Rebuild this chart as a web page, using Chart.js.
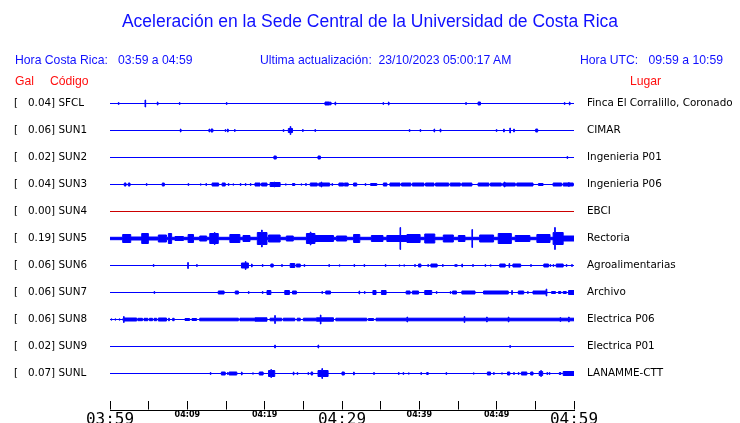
<!DOCTYPE html>
<html>
<head>
<meta charset="utf-8">
<script src="https://cdn.jsdelivr.net/npm/chart.js@4.4.0/dist/chart.umd.min.js"></script>
<style>
  body { margin: 0; background: #fff; }
  #wrap { position: relative; width: 740px; height: 423px; font-family: "Liberation Sans", Arial, sans-serif; }
  #wrap canvas { position: absolute; left: 0; top: 0; }
  .txt { position: absolute; white-space: pre; line-height: 1; }
  .blue { color: #1010ff; }
  .red { color: #ff1010; }
</style>
</head>
<body>
<div id="wrap">
  <canvas id="sismo" width="740" height="423"></canvas>
  <div class="txt blue" style="left:0;width:740px;text-align:center;top:13px;font-size:17.5px;">Aceleración en la Sede Central de la Universidad de Costa Rica</div>
  <div class="txt blue" style="left:15px;top:53.5px;font-size:12.2px;">Hora Costa Rica:   03:59 a 04:59</div>
  <div class="txt blue" style="left:260px;top:53.5px;font-size:12.2px;">Ultima actualización:  23/10/2023 05:00:17 AM</div>
  <div class="txt blue" style="left:580px;top:53.5px;font-size:12.2px;">Hora UTC:   09:59 a 10:59</div>
  <div class="txt red" style="left:15px;top:74.5px;font-size:12.2px;">Gal</div>
  <div class="txt red" style="left:50px;top:74.5px;font-size:12.2px;">Código</div>
  <div class="txt red" style="left:630px;top:74.5px;font-size:12.2px;">Lugar</div>
</div>
<script>
// Estaciones
const CODES = ["SFCL", "SUN1", "SUN2", "SUN3", "SUN4", "SUN5", "SUN6", "SUN7", "SUN8", "SUN9", "SUNL"];
const GAL = [0.04, 0.06, 0.02, 0.04, 0.00, 0.19, 0.06, 0.06, 0.06, 0.02, 0.07];
const PLACES = ["Finca El Corralillo, Coronado", "CIMAR", "Ingenieria P01", "Ingenieria P06", "EBCI",
  "Rectoria", "Agroalimentarias", "Archivo", "Electrica P06", "Electrica P01", "LANAMME-CTT"];
const TIME_LABELS = ["03:59", "04:09", "04:19", "04:29", "04:39", "04:49", "04:59"];

// Amplitud de fondo de cada traza (unidades de traza, 27 = separacion entre trazas)
const BASE = [0, 0, 0, 0, 0, 1.2, 0, 0, 0, 0, 0];

// Rafagas: [minuto inicio, minuto fin, amplitud] o [minuto, amplitud] para un pico
const SFCL = [[1.08, 1], [4.53, 3.5], [6.12, 1.5], [8.97, 1], [15.05, 1], [27.8, 28.4, 1.5], [28.5, 1.5],
  [29.1, 1.5], [35.3, 1], [36.0, 1.5], [46.0, 1], [47.6, 47.9, 1.5], [58.75, 1], [59.4, 1.5]];
const SUN1 = [[9.1, 1.5], [12.8, 1.5], [13.06, 13.3, 1.5], [14.9, 1], [15.2, 1.5], [16.1, 1], [22.4, 1],
  [23.06, 23.6, 2], [23.3, 4], [24.9, 1], [26.5, 1], [38.7, 1], [40.1, 1], [41.9, 1.5], [42.7, 1.5],
  [49.95, 1], [50.9, 1.5], [51.7, 2.5], [52.2, 1.5], [55.05, 55.3, 1.5]];
const SUN2 = [[21.2, 21.5, 1.5], [26.9, 27.2, 1.5], [59.1, 1]];
const SUN3 = [[1.85, 2.07, 1.5], [2.37, 2.59, 1.5], [4.7, 1], [6.76, 7.02, 1.5], [10.1, 1], [11.7, 0.7],
  [12.4, 1], [13.2, 14.05, 1.5], [14.5, 14.9, 1.5], [15.3, 1], [15.9, 0.7], [16.85, 1], [17.5, 1],
  [18.15, 1], [18.75, 19.4, 1.5], [19.6, 20.3, 1.5], [20.7, 22.0, 2], [21.2, 2.5], [22.7, 0.7],
  [23.6, 23.9, 1], [24.7, 0.7], [25.3, 1], [25.9, 26.8, 1.5], [27.0, 28.4, 1.5], [27.3, 2.5], [28.7, 1],
  [29.6, 30.2, 1.5], [30.3, 30.8, 1.5], [31.5, 31.9, 1.5], [33.0, 1], [33.7, 34.5, 1], [35.35, 35.8, 1.5],
  [36.2, 37.5, 1.5], [37.7, 38.9, 1.5], [39.1, 40.6, 1.5], [40.8, 41.9, 1.5], [42.1, 43.8, 1.5],
  [44.0, 45.3, 1.5], [45.5, 46.8, 1.5], [47.6, 49.0, 1.5], [49.2, 50.6, 1.5], [50.8, 52.4, 1.5],
  [51.0, 2.5], [52.6, 54.7, 1.5], [55.4, 56.0, 1], [57.3, 58.4, 1.5], [58.6, 59.9, 1.5], [59.3, 2]];
const SUN4 = [];
const SUN5 = [[1.64, 2.68, 4], [2.68, 4.1, 1.5], [4.1, 4.96, 5], [4.96, 6.2, 1.5], [6.25, 7.3, 3.5],
  [7.55, 7.97, 5], [8.4, 9.5, 2], [10.1, 10.8, 4], [11.6, 12.5, 2.5], [12.9, 14.0, 5], [13.5, 6],
  [15.5, 16.8, 4], [17.2, 18.1, 3], [19.05, 20.3, 6], [19.6, 8.5], [20.5, 22.0, 3.5], [22.8, 23.7, 2.5],
  [25.4, 26.5, 5], [25.9, 6.5], [26.5, 28.9, 3], [29.3, 30.6, 2.5], [31.5, 32.3, 4], [33.8, 35.3, 3],
  [35.8, 38.4, 3], [37.5, 11], [38.4, 40.1, 4], [40.7, 42.0, 4.5], [43.1, 44.4, 3.5], [45.05, 45.9, 3],
  [46.8, 9], [47.8, 49.6, 3.5], [50.2, 51.9, 5], [52.4, 54.3, 3], [55.2, 56.9, 4], [57.3, 58.6, 6],
  [57.5, 11], [58.6, 60, 2.5]];
const SUN6 = [[5.6, 1], [10.05, 3], [11.2, 1], [17.0, 17.9, 2.5], [17.5, 4], [18.3, 1.5], [19.7, 1],
  [20.8, 21.1, 1.5], [22.2, 1], [23.3, 23.9, 2], [24.1, 24.6, 1.5], [25.1, 1], [28.3, 1], [29.65, 0.7],
  [31.55, 1], [32.85, 1], [35.6, 1], [37.4, 0.7], [38.0, 0.7], [39.4, 1], [39.9, 40.2, 1.5], [41.1, 1],
  [41.5, 42.3, 1.5], [43.0, 1], [44.6, 1], [44.8, 1], [45.5, 1.5], [46.9, 1], [48.5, 1], [49.2, 0.7],
  [50.4, 51.1, 1.5], [51.6, 2], [52.1, 53.1, 1.5], [54.4, 1], [56.1, 56.7, 1.5], [56.9, 1], [57.3, 1],
  [57.7, 58.6, 1.5], [59.0, 1], [59.7, 1]];
const SUN7 = [[5.7, 1], [14.0, 14.75, 1.5], [16.2, 16.6, 1.5], [17.9, 1], [19.7, 1], [20.3, 20.8, 2],
  [22.6, 23.2, 2], [23.6, 24.1, 1.5], [27.4, 1], [27.9, 28.5, 1.5], [32.2, 1.5], [32.9, 1], [34.0, 34.4, 2],
  [35.1, 35.7, 2], [38.3, 38.8, 1.5], [39.1, 39.9, 1.5], [40.7, 41.6, 2], [42.2, 1], [44.0, 1],
  [44.3, 44.8, 1.5], [45.5, 47.2, 1.5], [48.3, 51.5, 1.5], [51.95, 2], [52.8, 53.5, 1.5], [54.0, 1],
  [54.7, 56.5, 1.5], [56.4, 3.5], [57.1, 57.6, 1], [58.0, 58.3, 1], [58.6, 59.0, 1], [59.3, 60, 2]];
const SUN8 = [[0.15, 0.7], [0.65, 0.7], [1.2, 0.7], [1.7, 3.45, 1.5], [1.75, 3], [3.6, 4.2, 1.2],
  [4.4, 4.9, 1.2], [5.1, 5.5, 1.2], [5.7, 6.04, 1.2], [6.25, 7.3, 1.5], [7.55, 7.7, 1.2], [8.1, 8.3, 1.2],
  [9.7, 10.3, 1], [10.6, 11.2, 1], [11.6, 16.6, 1.3], [16.8, 18.75, 1.3], [18.75, 20.3, 1.7],
  [20.7, 22.2, 1.3], [21.3, 4], [22.4, 23.9, 1.3], [24.2, 24.6, 1.3], [25.0, 26.7, 1.3], [26.7, 28.9, 1.7],
  [27.2, 4.5], [29.2, 33.2, 1.3], [33.4, 34.1, 1], [34.4, 60, 1.3], [38.4, 2.5], [45.8, 3], [48.7, 2.5],
  [51.5, 2.5], [58.2, 2], [59.3, 2.5]];
const SUN9 = [[21.3, 1.5], [26.9, 1.5], [51.7, 1]];
const SUNL = [[12.97, 1], [14.4, 14.9, 1.5], [15.2, 1], [15.4, 16.4, 1.5], [17.0, 1.5], [18.45, 0.7],
  [19.3, 19.8, 1.5], [20.5, 21.3, 3], [20.8, 4], [23.7, 1.5], [24.2, 1], [25.6, 1], [26.0, 26.2, 1.5],
  [26.9, 28.2, 3], [27.4, 5], [30.0, 30.3, 1.5], [31.5, 1.5], [34.1, 1], [37.3, 1], [37.9, 1], [38.6, 0.7],
  [40.2, 1], [40.95, 41.15, 1], [43.45, 1], [47.0, 0.7], [48.8, 49.2, 1.5], [49.6, 1], [50.65, 0.7],
  [51.4, 51.7, 1.5], [52.2, 1], [52.8, 1], [53.2, 53.9, 1.5], [54.4, 54.7, 1.5], [55.5, 55.95, 2],
  [55.7, 3], [56.5, 1], [56.8, 1], [58.1, 58.3, 1], [58.6, 60, 2]];

const BURSTS = [SFCL, SUN1, SUN2, SUN3, SUN4, SUN5, SUN6, SUN7, SUN8, SUN9, SUNL];

const ROW = 27;       // unidades de traza por separacion entre trazas
const SPIKE = 0.08;   // duracion de un pico (minutos)
const BLUE = "#0000ff";
const OFF_RED = "#cc0000";

// envolvente escalonada de una traza
function envelope(base, bursts) {
  const spans = bursts.map((b) => (b.length === 2 ? [b[0], b[0] + SPIKE, b[1]] : b));
  const cuts = new Set([0, 60]);
  spans.forEach((s) => { cuts.add(s[0]); cuts.add(Math.min(s[1], 60)); });
  const xs = [...cuts].sort((a, b) => a - b);
  return xs.map((x) => {
    let a = base;
    spans.forEach((s) => { if (x >= s[0] && x < s[1]) a = Math.max(a, s[2]); });
    if (x >= 60) a = base;
    return { x: x, a: a };
  });
}

const datasets = [];
BURSTS.forEach((bursts, i) => {
  const env = envelope(BASE[i], bursts);
  const color = GAL[i] === 0 ? OFF_RED : BLUE;
  datasets.push({
    data: env.map((p) => ({ x: p.x, y: i - p.a / ROW })),
    borderColor: color, backgroundColor: color, borderWidth: 1,
    stepped: "before", pointRadius: 0, fill: "+1",
  });
  datasets.push({
    data: env.map((p) => ({ x: p.x, y: i + p.a / ROW })),
    borderColor: color, backgroundColor: color, borderWidth: 1,
    stepped: "before", pointRadius: 0, fill: false,
  });
});

const leftLabels = CODES.map((c, i) => "[   " + GAL[i].toFixed(2) + "] " + c);

// linea del eje de tiempo bajo las marcas
const axisLine = {
  id: "axisLine",
  afterDraw(chart) {
    const s = chart.scales.x;
    const ctx = chart.ctx;
    const y = Math.round(s.top + s.options.grid.tickLength);
    ctx.save();
    ctx.strokeStyle = "#000";
    ctx.lineWidth = 1;
    ctx.beginPath();
    ctx.moveTo(s.left, y + 0.5);
    ctx.lineTo(s.right + 1, y + 0.5);
    ctx.stroke();
    ctx.restore();
  },
};

const rowTicks = (s) => { s.ticks = CODES.map((_, i) => ({ value: i })); };

new Chart(document.getElementById("sismo").getContext("2d"), {
  type: "line",
  data: { datasets: datasets },
  plugins: [axisLine],
  options: {
    responsive: false,
    animation: false,
    events: [],
    layout: { padding: { left: 14, top: 76.5, right: 0, bottom: 0 } },
    plugins: { legend: { display: false }, tooltip: { enabled: false } },
    scales: {
      x: {
        type: "linear", min: 0, max: 60,
        afterFit: (s) => { s.height = 22.5; },
        grid: { drawOnChartArea: false, drawTicks: true, tickLength: 9, color: "#000", lineWidth: 1 },
        border: { display: false },
        ticks: {
          stepSize: 5, autoSkip: false, maxRotation: 0, padding: 1, color: "#000",
          callback: (v) => (v % 10 === 0 ? TIME_LABELS[v / 10] : ""),
          font: (ctx) => (ctx.tick && ctx.tick.value % 30 === 0
            ? { family: "DejaVu Sans Mono", size: 16 }
            : { family: "DejaVu Sans", size: 8, weight: "bold" }),
        },
      },
      y: {
        type: "linear", position: "left", reverse: true, min: -1, max: 11,
        afterBuildTicks: rowTicks,
        afterFit: (s) => { s.width = 96; },
        grid: { display: false }, border: { display: false },
        ticks: {
          crossAlign: "far", autoSkip: false, color: "#000",
          font: { family: "DejaVu Sans", size: 10.4 },
          callback: (v) => leftLabels[v],
        },
      },
      y2: {
        type: "linear", position: "right", reverse: true, min: -1, max: 11,
        afterBuildTicks: rowTicks,
        afterFit: (s) => { s.width = 166; },
        grid: { display: false, drawTicks: false }, border: { display: false },
        ticks: {
          crossAlign: "near", padding: 13, autoSkip: false, color: "#000",
          font: { family: "DejaVu Sans", size: 10.4 },
          callback: (v) => PLACES[v],
        },
      },
    },
  },
});
</script>
</body>
</html>
